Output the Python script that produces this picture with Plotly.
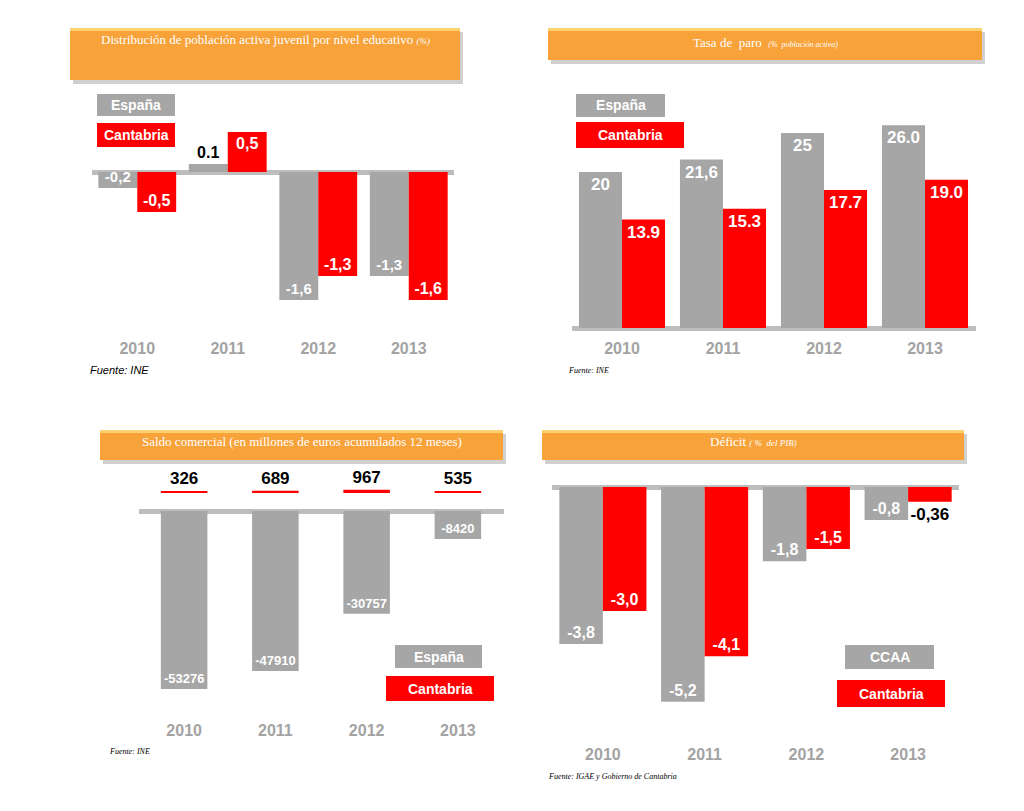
import plotly.graph_objects as go

W, H = 1024, 811

# ---------------- data ----------------
years = ["2010", "2011", "2012", "2013"]

# Panel 1: Distribución de población activa juvenil por nivel educativo (%)
p1_espana = [-0.2, 0.1, -1.6, -1.3]
p1_cantabria = [-0.5, 0.5, -1.3, -1.6]
p1_espana_lbl = ["-0,2", "0.1", "-1,6", "-1,3"]
p1_cantabria_lbl = ["-0,5", "0,5", "-1,3", "-1,6"]

# Panel 2: Tasa de paro (% población activa)
p2_espana = [20, 21.6, 25, 26.0]
p2_cantabria = [13.9, 15.3, 17.7, 19.0]
p2_espana_lbl = ["20", "21,6", "25", "26.0"]
p2_cantabria_lbl = ["13.9", "15.3", "17.7", "19.0"]

# Panel 3: Saldo comercial (millones de euros acumulados 12 meses)
p3_espana = [-53276, -47910, -30757, -8420]
p3_cantabria = [326, 689, 967, 535]

# Panel 4: Déficit (% del PIB)
p4_ccaa = [-3.8, -5.2, -1.8, -0.8]
p4_cantabria = [-3.0, -4.1, -1.5, -0.36]
p4_ccaa_lbl = ["-3,8", "-5,2", "-1,8", "-0,8"]
p4_cantabria_lbl = ["-3,0", "-4,1", "-1,5", "-0,36"]

GRAY = "#A6A6A6"
RED = "#FF0000"
LINE = "#BDBDBD"
YEARC = "#A3A3A3"
ORANGE = "#F8A23A"

def fx(p):
    return p / W

def fy(p):
    return 1 - p / H

fig = go.Figure()

# ---------------- axes geometry ----------------
# (x_left_px, x_right_px, y_top_px, y_bottom_px, y_zero_px, px_per_unit)
panels = {
    1: (92, 454, 88, 337, 172, 80.0),
    2: (571.5, 975.5, 88, 337, 328, 7.8),
    3: (138.5, 503.5, 470, 719, 511, 0.00334),
    4: (552, 959, 470, 743, 487, 41.3),
}

layout_axes = {}
for k, (xl, xr, yt, yb, yz, s) in panels.items():
    sfx = "" if k == 1 else str(k)
    layout_axes["xaxis" + sfx] = dict(
        domain=[fx(xl), fx(xr)], range=[-0.5, 3.5], anchor="y" + sfx,
        type="category", showgrid=False, zeroline=False, showline=False,
        ticks="", tickfont=dict(family="Arial", size=16, color=YEARC, weight="bold"),
        fixedrange=True,
    )
    layout_axes["yaxis" + sfx] = dict(
        domain=[fy(yb), fy(yt)], range=[-(yb - yz) / s, (yz - yt) / s],
        anchor="x" + sfx, showgrid=False, showticklabels=False,
        zeroline=True, zerolinecolor=LINE, zerolinewidth=5, showline=False,
        fixedrange=True,
    )

lblfont = dict(family="Arial", size=16, color="white", weight="bold")

def add_bar(y, xa, ya, color, offset, width, text=None, textpos="inside",
            insize=16, outcolor="black", outsize=16, base=None):
    fig.add_trace(go.Bar(
        x=years, y=y, xaxis=xa, yaxis=ya, marker=dict(color=color, line=dict(width=0)),
        offset=offset, width=width, base=base,
        text=text, textposition=textpos, insidetextanchor="end",
        constraintext="none", cliponaxis=False,
        insidetextfont=dict(family="Arial", size=insize, color="white", weight="bold"),
        outsidetextfont=dict(family="Arial", size=outsize, color=outcolor, weight="bold"),
        showlegend=False, hoverinfo="skip",
    ))

# Panel 1
w1 = 0.43
add_bar(p1_espana, "x", "y", GRAY, -w1, w1, p1_espana_lbl,
        ["inside", "outside", "inside", "inside"], insize=15)
add_bar(p1_cantabria, "x", "y", RED, 0, w1, p1_cantabria_lbl, "inside", insize=16)

# Panel 2
w2 = 0.426
add_bar(p2_espana, "x2", "y2", GRAY, -w2, w2, p2_espana_lbl, "inside", insize=17)
add_bar(p2_cantabria, "x2", "y2", RED, 0, w2, p2_cantabria_lbl, "inside", insize=17)

# Panel 3
w3 = 0.51
add_bar(p3_espana, "x3", "y3", GRAY, -w3 / 2, w3,
        [str(v) for v in p3_espana], "inside", insize=13)
add_bar(p3_cantabria, "x3", "y3", RED, -w3 / 2, w3,
        [str(v) for v in p3_cantabria], "outside", outsize=17, base=5400)

# Panel 4
w4 = 0.428
add_bar(p4_ccaa, "x4", "y4", GRAY, -w4, w4, p4_ccaa_lbl, "inside", insize=16)
add_bar(p4_cantabria, "x4", "y4", RED, 0, w4, p4_cantabria_lbl,
        ["inside", "inside", "inside", "outside"], insize=16, outsize=17)

shapes = []
annotations = []

# ---------------- title bars ----------------
def title_bar(x0, y0, x1, y1, text, ty):
    shapes.append(dict(type="rect", xref="paper", yref="paper",
                       x0=fx(x0 + 3), x1=fx(x1 + 3), y0=fy(y1 + 4), y1=fy(y0 + 4),
                       fillcolor="rgba(120,120,120,0.35)", line=dict(width=0), layer="below"))
    shapes.append(dict(type="rect", xref="paper", yref="paper",
                       x0=fx(x0), x1=fx(x1), y0=fy(y1), y1=fy(y0),
                       fillcolor=ORANGE, line=dict(width=0), layer="below"))
    shapes.append(dict(type="rect", xref="paper", yref="paper",
                       x0=fx(x0), x1=fx(x1), y0=fy(y0 + 3), y1=fy(y0),
                       fillcolor="#FCD170", line=dict(width=0), layer="below"))
    annotations.append(dict(xref="paper", yref="paper", x=fx((x0 + x1) / 2), y=fy(ty),
                            text=text, showarrow=False, xanchor="center", yanchor="middle",
                            font=dict(family="Liberation Serif", size=13, color="white")))

title_bar(70, 28, 460, 80,
          "Distribución de población activa juvenil por nivel educativo <i><span style='font-size:9px'>(%)</span></i>", 40)
title_bar(548, 28, 982, 60,
          "Tasa de  paro  <i><span style='font-size:8px'>(%  población activa)</span></i>", 42)
title_bar(100, 430, 503, 460,
          "Saldo comercial (en millones de euros acumulados 12 meses)", 442)
title_bar(542, 430, 964, 460,
          "Déficit <i><span style='font-size:9px'>( %  del PIB)</span></i>", 442)

# ---------------- legend boxes ----------------
def legend_box(x0, y0, x1, y1, color, label):
    shapes.append(dict(type="rect", xref="paper", yref="paper",
                       x0=fx(x0), x1=fx(x1), y0=fy(y1), y1=fy(y0),
                       fillcolor=color, line=dict(width=0)))
    annotations.append(dict(xref="paper", yref="paper", x=fx((x0 + x1) / 2), y=fy((y0 + y1) / 2),
                            text=label, showarrow=False, xanchor="center", yanchor="middle",
                            font=dict(family="Arial", size=14, color="white", weight="bold")))

legend_box(97, 94, 175, 116, GRAY, "España")
legend_box(97, 123, 175, 147, RED, "Cantabria")
legend_box(576, 94, 665, 117, GRAY, "España")
legend_box(576, 122, 684, 148, RED, "Cantabria")
legend_box(395, 645, 482, 668, GRAY, "España")
legend_box(386, 676, 494, 701, RED, "Cantabria")
legend_box(845, 645, 934, 669, GRAY, "CCAA")
legend_box(837, 680, 945, 707, RED, "Cantabria")

# ---------------- sources ----------------
def source(x, y, text, family, size):
    annotations.append(dict(xref="paper", yref="paper", x=fx(x), y=fy(y), text="<i>" + text + "</i>",
                            showarrow=False, xanchor="left", yanchor="middle",
                            font=dict(family=family, size=size, color="black")))

source(88, 370, "Fuente: INE", "Arial", 11)
source(566, 370, "Fuente: INE", "Liberation Serif", 8)
source(107, 751, "Fuente: INE", "Liberation Serif", 8)
source(546, 776, "Fuente: IGAE y Gobierno de Cantabria", "Liberation Serif", 8)

fig.update_layout(
    width=W, height=H, margin=dict(l=0, r=0, t=0, b=0),
    paper_bgcolor="white", plot_bgcolor="white",
    barmode="overlay", showlegend=False,
    shapes=shapes, annotations=annotations,
    **layout_axes,
)

fig.write_html("out.html")
